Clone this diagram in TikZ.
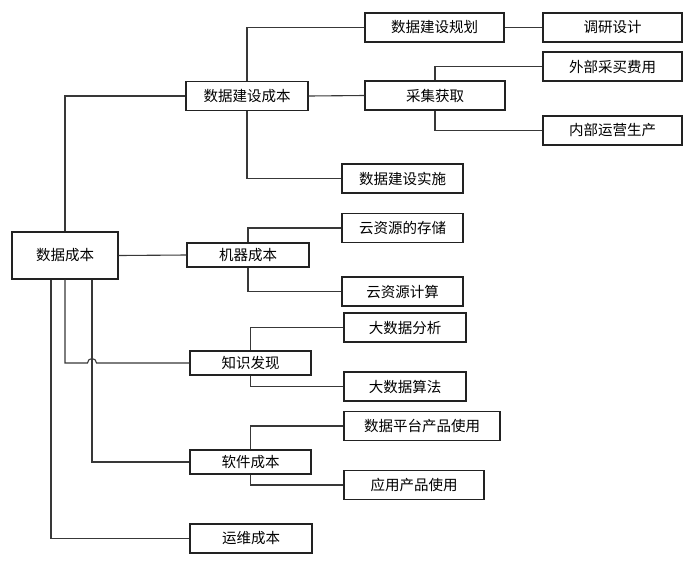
\documentclass[tikz,border=0pt]{standalone}
\usepackage{fontspec}
\newfontfamily\cjk{Noto Sans CJK SC}
\usetikzlibrary{calc,positioning}
\definecolor{Ink}{HTML}{222222}
\definecolor{Wire}{HTML}{383838}

\begin{document}
\begin{tikzpicture}[x=1pt,y=-1pt,
    box/.style={draw=Ink,line width=1.4pt,fill=white,inner sep=0pt,
      minimum height=29pt,font=\cjk\fontsize{14.5}{16}\selectfont},
    wire/.style={draw=Wire,line width=1.1pt}]
    \useasboundingbox[fill=white] (0,0) rectangle (700,571);
    % root and second level
    \node[box,minimum width=106pt,minimum height=47pt] (root) at (65,255.5) {数据成本};
    \foreach \nm/\x/\y/\w/\h/\lab in {
      jscb/247/96/122/29/数据建设成本,
      jqcb/248/255/122/24/机器成本,
      zsfx/250.5/363/121/24/知识发现,
      rjcb/250.5/462/121/24/软件成本,
      ywcb/251/538.5/122/29/运维成本}
      {
        \node[box,minimum width=\w pt,minimum height=\h pt] (\nm) at (\x,\y) {\lab};
      }
    % third and fourth level
    \foreach \nm/\x/\y/\w/\lab in {
      ghua/434.5/27.5/139/数据建设规划,
      cjhq/435/95.5/140/采集获取,
      ssh/402.5/178.5/121/数据建设实施,
      dysj/612.5/27.5/139/调研设计,
      wbcm/612.5/66.5/139/外部采买费用,
      nbyy/612.5/130.5/139/内部运营生产,
      ccu/402.5/228/121/云资源的存储,
      jsuan/402.5/291.5/121/云资源计算,
      fenxi/405/327.5/122/大数据分析,
      suanfa/405/386.5/122/大数据算法,
      ptsy/422/426/156/数据平台产品使用,
      yysy/414/485/140/应用产品使用}
      {
        \node[box,minimum width=\w pt] (\nm) at (\x,\y) {\lab};
      }
    % connectors from the root
    \draw[wire] (root.north) |- (jscb.west);
    \draw[wire] (root.east) -- (jqcb.west);
    \draw[wire] ([xshift=-14pt]root.south) |- (ywcb.west);
    \draw[wire] ([xshift=27pt]root.south) |- (rjcb.west);
    \coordinate (jmp) at ([xshift=27pt]root.south |- zsfx.west);
    \draw[wire] (root.south) |- ([xshift=-4.5pt]jmp)
      arc[start angle=180,end angle=0,radius=4.5pt] -- (zsfx.west);
    % connectors to the children
    \foreach \a/\b/\c in {jscb/ghua/ssh,cjhq/wbcm/nbyy,jqcb/ccu/jsuan,
      zsfx/fenxi/suanfa,rjcb/ptsy/yysy}
      {
        \draw[wire] (\a.north) |- (\b.west);
        \draw[wire] (\a.south) |- (\c.west);
      }
    \draw[wire] (jscb.east) -- (cjhq.west);
    \draw[wire] (ghua.east) -- (dysj.west);
\end{tikzpicture}
\end{document}
